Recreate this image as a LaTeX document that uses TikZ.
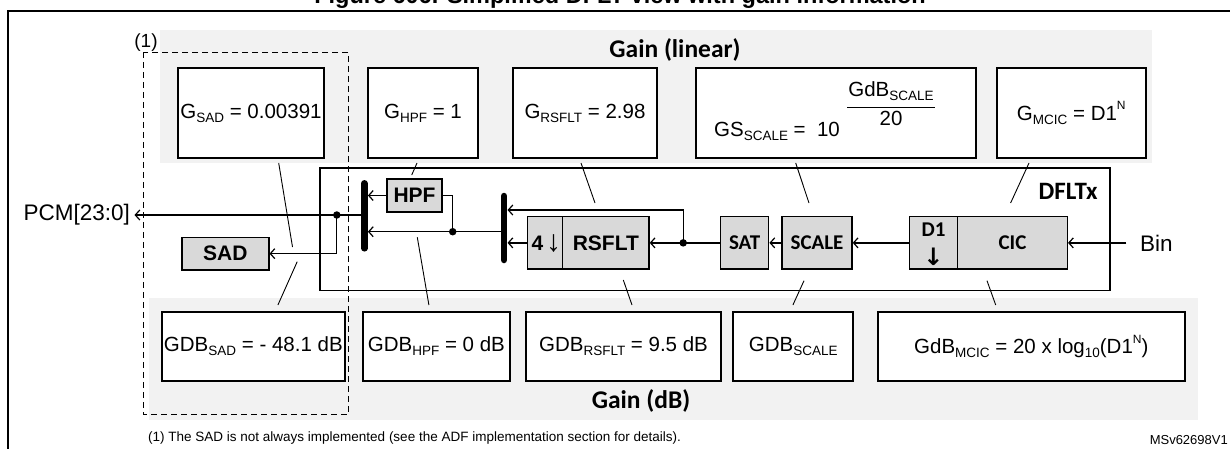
\documentclass[tikz,border=0pt]{standalone}
\usepackage{fontspec}
\setmainfont{Liberation Sans}
\newfontfamily\calibf{Carlito}
\newfontfamily\djv{DejaVu Sans}
\usetikzlibrary{arrows.meta}
\definecolor{bandgray}{HTML}{F2F2F2}
\definecolor{blkgray}{HTML}{D9D9D9}
\newcommand\fsz[1]{\fontsize{#1}{#1}\selectfont}
\newcommand\sbs[1]{\raisebox{-0.2em}{\fsz{13.5}#1}}
\newcommand\sps[1]{\raisebox{0.5em}{\fsz{12}#1}}
\tikzset{
  gainbox/.style={draw, line width=2pt, fill=white, inner sep=0pt, font=\fsz{20.5}},
  blockbox/.style={draw, line width=1.4pt, fill=blkgray, inner sep=0pt},
  boldarial/.style={font=\fsz{21}\bfseries},
  boldcal/.style={font=\calibf\fsz{21}\bfseries},
  sig/.style={line width=1.3pt},
  arr/.style={sig, -{Straight Barb[length=4.5pt,width=10pt,line width=1.2pt]}},
  ptr/.style={line width=0.9pt},
  busbar/.style={line width=6.5pt, line cap=round},
  jdot/.style={circle, fill, inner sep=0pt, minimum size=7.5pt},
  bandtitle/.style={font=\calibf\fsz{25.5}\bfseries},
}
\begin{document}
\begin{tikzpicture}[x=1pt,y=-1pt]
\useasboundingbox (0,0) rectangle (1230,448);
% title (cut at top, as in the reference)
\node[anchor=base, font=\fsz{23.5}\bfseries, inner sep=0pt] (title) at (620,3.5) {Figure 606. Simplified DFLT view with gain information};
% outer frame
\draw[line width=2pt] (8,470) -- (8,11) -- (1250,11);
% gray bands
\fill[bandgray] (160,30) rectangle (1152,163);
\fill[bandgray] (149,298) rectangle (1198,420);
\node[bandtitle] (glin) at (675,50) {Gain (linear)};
\node[bandtitle] (gdb) at (641,401) {Gain (dB)};
% top gain boxes
\node[gainbox, minimum width=146pt, minimum height=90.6pt] (gsad) at (251,113) {G\sbs{SAD} = 0.00391};
\node[gainbox, minimum width=110pt, minimum height=90.6pt] (ghpf) at (423,113) {G\sbs{HPF} = 1};
\node[gainbox, minimum width=144pt, minimum height=90.6pt] (grsflt) at (585,113) {G\sbs{RSFLT} = 2.98};
\node[gainbox, minimum width=280pt, minimum height=90.6pt] (gscale) at (835.6,113) {};
\node[font=\fsz{20.5}, inner sep=0pt] (gscaletxt) at (777,131) {GS\sbs{SCALE} = \ 10};
\node[font=\fsz{20.5}, inner sep=0pt] (gscaleexp) at (891,91.5) {GdB\sbs{SCALE}};
\draw[line width=1pt] (847,107) -- (935,107);
\node[font=\fsz{20.5}, inner sep=0pt] (gscaleden) at (891,118) {20};
\node[gainbox, minimum width=148.6pt, minimum height=90.6pt] (gmcic) at (1071.3,113) {G\sbs{MCIC} = D1\sps{N}};
% bottom gain boxes
\node[gainbox, minimum width=182.7pt, minimum height=69pt] (dsad) at (253.35,346.2) {GDB\sbs{SAD} = - 48.1 dB};
\node[gainbox, minimum width=147.2pt, minimum height=69pt] (dhpf) at (436.4,346.2) {GDB\sbs{HPF} = 0 dB};
\node[gainbox, minimum width=195.6pt, minimum height=69pt] (drsflt) at (623.5,346.2) {GDB\sbs{RSFLT} = 9.5 dB};
\node[gainbox, minimum width=119.6pt, minimum height=69pt] (dscale) at (793.2,346.2) {GDB\sbs{SCALE}};
\node[gainbox, minimum width=306.6pt, minimum height=69pt] (dmcic) at (1031.3,346.2) {GdB\sbs{MCIC} = 20 x log\sbs{10}(D1\sps{N})};
% dashed SAD region
\draw[line width=1pt, dash pattern=on 6pt off 4pt] (143,52) rectangle (348.6,414);
\node[font=\fsz{19}, inner sep=0pt] (note1) at (146,43) {(1)};
% DFLTx frame
\draw[line width=1.5pt] (320,168) rectangle (1110,290.7);
\node[font=\calibf\fsz{25}\bfseries, inner sep=0pt] (dfltx) at (1068,191) {DFLTx};
% blocks
\node[blockbox, minimum width=35.4pt, minimum height=52.3pt] (dec4) at (545,242.85) {};
\node[boldarial, inner sep=0pt] (dec4n) at (537.5,242.85) {4};
\node[font=\fsz{30}, inner sep=0pt] (dec4a) at (553.5,244) {↓};
\node[blockbox, minimum width=86.3pt, minimum height=52.3pt, boldarial] (rsflt) at (605.85,242.85) {RSFLT};
\node[blockbox, minimum width=48.2pt, minimum height=52.3pt, boldcal] (sat) at (744.6,242.85) {SAT};
\node[blockbox, minimum width=70pt, minimum height=52.3pt, boldcal] (scale) at (817,242.85) {SCALE};
\node[blockbox, minimum width=48.2pt, minimum height=52.3pt] (d1) at (933.5,242.85) {};
\node[boldcal, inner sep=0pt] (d1t) at (933.5,230) {D1};
\node[font=\djv\fsz{24}\bfseries, inner sep=0pt] (d1a) at (933.5,256.5) {↓};
\node[blockbox, minimum width=109.7pt, minimum height=52.3pt, boldcal] (cic) at (1012.45,242.85) {CIC};
\node[blockbox, minimum width=55pt, minimum height=33pt, boldarial] (hpf) at (414.5,195.5) {HPF};
\node[blockbox, minimum width=87pt, minimum height=32.7pt, boldarial] (sad) at (225.3,253.65) {SAD};
% bus bars
\coordinate (b1t) at (364.4,183.3); \coordinate (b1b) at (364.4,248.3);
\coordinate (b2t) at (504,196);   \coordinate (b2b) at (504,260);
\draw[busbar] (b1t) -- (b1b);
\draw[busbar] (b2t) -- (b2b);
% external labels
\node[font=\fsz{22.5}, anchor=east, inner sep=0pt] (pcm) at (130,215) {PCM[23:0]};
\node[font=\fsz{22.5}, anchor=west, inner sep=0pt] (bin) at (1140,242.85) {Bin};
% signal path
\coordinate (binst) at (1126.3,242.85);
\draw[arr] (binst) -- (cic.east);
\draw[arr] (d1.west) -- (scale.east);
\draw[arr] (scale.west) -- (sat.east);
\draw[arr] (sat.west) -- (rsflt.east);
\node[jdot] (j1) at (683.2,242.85) {};
\draw[arr] (j1.center) -- (683.2,210) -- (504+3.5,210);
\draw[arr] (dec4.west) -- (504+3.5,242.85);
\node[jdot] (j2) at (452.7,231.7) {};
\draw[arr] (504-3,231.7) -- (364.4+3.5,231.7);
\draw[sig] (j2.center) -- (452.7,195.5) -- (hpf.east);
\draw[arr] (hpf.west) -- (364.4+3.5,195.5);
\node[jdot] (j3) at (336.8,215) {};
\draw[arr] (364.4-3,215) -- (134.5,215);
\draw[arr] (j3.center) -- (336.8,253.65) -- (sad.east);
% pointer lines top
\draw[ptr] (278.7,163) -- (292.5,247);
\draw[ptr] (417,163) -- (411.7,175);
\draw[ptr] (581,163) -- (595,203);
\draw[ptr] (795.7,163) -- (809,203);
\draw[ptr] (1029,163) -- (1010.6,203);
% pointer lines bottom
\draw[ptr] (297.2,261.7) -- (277.9,305);
\draw[ptr] (417.3,237.3) -- (428.9,305);
\draw[ptr] (623.3,280) -- (632,305);
\draw[ptr] (804,280.7) -- (792.9,305);
\draw[ptr] (987,280.7) -- (995.7,305);
% footnotes
\node[font=\fsz{13.5}, anchor=west, inner sep=0pt] (foot) at (148,438) {(1) The SAD is not always implemented (see the ADF implementation section for details).};
\node[font=\fsz{13}, anchor=east, inner sep=0pt] (msv) at (1228,440) {MSv62698V1};
\end{tikzpicture}
\end{document}
